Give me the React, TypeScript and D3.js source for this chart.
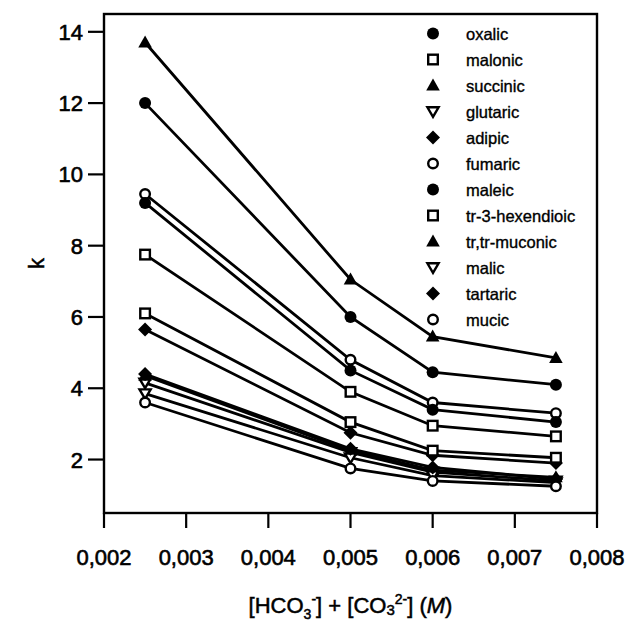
import React, { useEffect, useRef } from 'react';
import * as d3 from 'd3';

// concentrations (M)
const conc = [0.0025, 0.005, 0.006, 0.0075];

const acids = ['oxalic', 'malonic', 'succinic', 'glutaric', 'adipic', 'fumaric',
  'maleic', 'tr-3-hexendioic', 'tr,tr-muconic', 'malic', 'tartaric', 'mucic'];
const markers = ['dot', 'square', 'tri', 'itri', 'diamond', 'circle',
  'dot', 'square', 'tri', 'itri', 'diamond', 'circle'];

// k values, one array per acid
const oxalic = [12.0, 6.0, 4.45, 4.1];
const malonic = [7.75, 3.9, 2.95, 2.65];
const succinic = [13.7, 7.05, 5.45, 4.85];
const glutaric = [4.15, 2.2, 1.65, 1.4];
const adipic = [5.65, 2.75, 2.12, 1.9];
const fumaric = [9.45, 4.8, 3.6, 3.3];
const maleic = [9.2, 4.5, 3.4, 3.05];
const hexendioic = [6.1, 3.05, 2.25, 2.05];
const muconic = [4.35, 2.25, 1.7, 1.5];
const malic = [3.85, 2.05, 1.55, 1.35];
const tartaric = [4.4, 2.3, 1.78, 1.45];
const mucic = [3.6, 1.75, 1.4, 1.25];

const values = [oxalic, malonic, succinic, glutaric, adipic, fumaric,
  maleic, hexendioic, muconic, malic, tartaric, mucic];

const xTicks = [0.002, 0.003, 0.004, 0.005, 0.006, 0.007, 0.008];
const yTicks = [2, 4, 6, 8, 10, 12, 14];

const FONT = 'Liberation Sans, Arial, Helvetica, sans-serif';

function drawMarker(g: any, kind: string, cx: number, cy: number) {
  if (kind === 'dot') {
    g.append('circle').attr('cx', cx).attr('cy', cy).attr('r', 6).attr('fill', '#000');
  } else if (kind === 'circle') {
    g.append('circle').attr('cx', cx).attr('cy', cy).attr('r', 4.8)
      .attr('fill', '#fff').attr('stroke', '#000').attr('stroke-width', 2.4);
  } else if (kind === 'square') {
    g.append('rect').attr('x', cx - 4.8).attr('y', cy - 4.8).attr('width', 9.6).attr('height', 9.6)
      .attr('fill', '#fff').attr('stroke', '#000').attr('stroke-width', 2.4);
  } else if (kind === 'tri') {
    g.append('path').attr('d', `M${cx},${cy - 7}L${cx + 6.8},${cy + 5}L${cx - 6.8},${cy + 5}Z`)
      .attr('fill', '#000');
  } else if (kind === 'itri') {
    g.append('path').attr('d', `M${cx},${cy + 5.3}L${cx + 5.6},${cy - 4.2}L${cx - 5.6},${cy - 4.2}Z`)
      .attr('fill', '#fff').attr('stroke', '#000').attr('stroke-width', 2.4);
  } else if (kind === 'diamond') {
    g.append('path').attr('d', `M${cx},${cy - 7}L${cx + 7},${cy}L${cx},${cy + 7}L${cx - 7},${cy}Z`)
      .attr('fill', '#000');
  }
}

export default function App() {
  const ref = useRef<SVGSVGElement>(null);

  useEffect(() => {
    const svg = d3.select(ref.current);
    svg.selectAll('*').remove();

    const left = 104, right = 597, top = 14, bottom = 513;

    const x = d3.scaleLinear().domain([0.002, 0.008]).range([left, right]);
    const y = d3.scaleLinear().domain([0.5, 14.5]).range([bottom, top]);

    // box
    svg.append('rect')
      .attr('x', left).attr('y', top)
      .attr('width', right - left).attr('height', bottom - top)
      .attr('fill', 'none').attr('stroke', '#000').attr('stroke-width', 2.4);

    // y axis ticks
    const yg = svg.append('g');
    yTicks.forEach(t => {
      yg.append('line').attr('x1', left - 16).attr('x2', left)
        .attr('y1', y(t)).attr('y2', y(t)).attr('stroke', '#000').attr('stroke-width', 2.2);
      yg.append('text').attr('x', left - 21).attr('y', y(t) + 8)
        .attr('text-anchor', 'end').attr('font-size', 22).attr('font-family', FONT)
        .attr('stroke', '#000').attr('stroke-width', 0.6)
        .text(t);
    });

    // x axis ticks
    const xg = svg.append('g');
    const fmt = (v: number) => v.toFixed(3).replace('.', ',');
    xTicks.forEach(t => {
      xg.append('line').attr('x1', x(t)).attr('x2', x(t))
        .attr('y1', bottom).attr('y2', bottom + 15).attr('stroke', '#000').attr('stroke-width', 2.2);
      xg.append('text').attr('x', x(t)).attr('y', bottom + 52)
        .attr('text-anchor', 'middle').attr('font-size', 22).attr('font-family', FONT)
        .attr('stroke', '#000').attr('stroke-width', 0.6)
        .text(fmt(t));
    });

    // axis titles
    svg.append('text')
      .attr('transform', `translate(44,${(top + bottom) / 2}) rotate(-90)`)
      .attr('text-anchor', 'middle').attr('font-size', 22).attr('font-family', FONT)
      .attr('stroke', '#000').attr('stroke-width', 0.5)
      .text('k');

    const xt = svg.append('text')
      .attr('x', (left + right) / 2).attr('y', 613)
      .attr('text-anchor', 'middle').attr('font-size', 22).attr('font-family', FONT)
      .attr('stroke', '#000').attr('stroke-width', 0.5);
    xt.append('tspan').text('[HCO');
    xt.append('tspan').attr('font-size', 14).attr('dy', 6).text('3');
    xt.append('tspan').attr('font-size', 14).attr('dy', -15).text('-');
    xt.append('tspan').attr('dy', 9).text('] + [CO');
    xt.append('tspan').attr('font-size', 15).attr('dy', 2).text('3');
    xt.append('tspan').attr('font-size', 14).attr('dy', -11).text('2-');
    xt.append('tspan').attr('dy', 9).text('] (');
    xt.append('tspan').attr('font-style', 'italic').text('M');
    xt.append('tspan').text(')');

    // lines
    const line = d3.line<number>()
      .x((d, i) => x(conc[i]))
      .y(d => y(d));
    const lg = svg.append('g');
    values.forEach(vals => {
      lg.append('path').attr('d', line(vals)).attr('fill', 'none')
        .attr('stroke', '#000').attr('stroke-width', 2.8);
    });

    // points
    const pg = svg.append('g');
    values.forEach((vals, s) => {
      vals.forEach((v, i) => drawMarker(pg, markers[s], x(conc[i]), y(v)));
    });

    // legend
    const leg = svg.append('g');
    acids.forEach((name, i) => {
      const cy = 33.5 + i * 26;
      drawMarker(leg, markers[i], 433, cy);
      leg.append('text').attr('x', 466).attr('y', cy + 6)
        .attr('font-size', 16.5).attr('font-family', FONT)
        .attr('stroke', '#000').attr('stroke-width', 0.35)
        .attr('textLength', null)
        .text(name);
    });
  }, []);

  return (
    <svg ref={ref} width={626} height={624}
      style={{ position: 'absolute', left: 0, top: 0, background: '#fff' }} />
  );
}
